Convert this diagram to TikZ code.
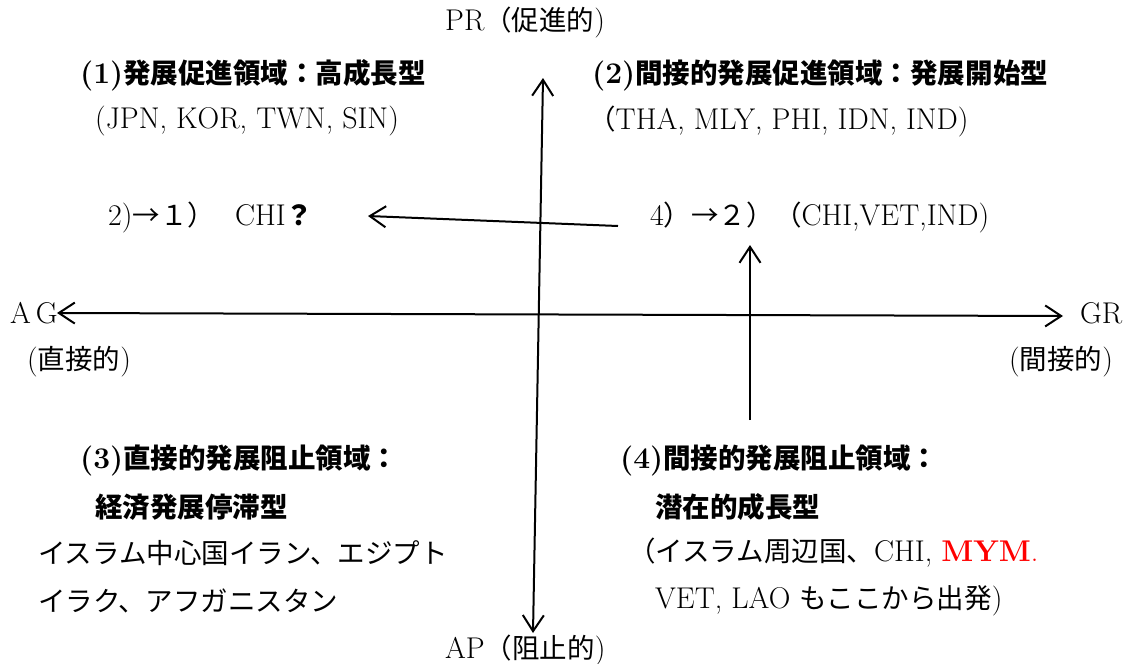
\documentclass[tikz,border=0pt]{standalone}
\usepackage{fontspec}
\usetikzlibrary{arrows.meta}
\newfontfamily\jp{Noto Sans CJK JP}[Scale=0.917]
\newcommand{\J}[1]{{\jp #1}}
\newcommand{\JB}[1]{{\jp\bfseries #1}}
\begin{document}
\begin{tikzpicture}[x=1pt,y=-1pt,
  txt/.style={inner sep=0pt, anchor=west, font=\fontsize{30}{34}\selectfont},
  ax/.style={line width=2pt, -{Straight Barb[length=16pt,width=21pt]}},
  axboth/.style={line width=2pt, {Straight Barb[length=16pt,width=21pt]}-{Straight Barb[length=16pt,width=21pt]}}]
\useasboundingbox (0,0) rectangle (1128,664);
% axis labels
\node[txt] (pr) at (445,22) {PR\J{（促進的})};
\node[txt] (ap) at (445,650) {AP\J{（阻止的})};
\node[txt] (ag) at (10,313) {A\,G};
\node[txt] (gr) at (1080,313) {GR};
\node[txt] (agl) at (27,362) {(\J{直接的})};
\node[txt] (grl) at (1009,362) {(\J{間接的})};
% quadrant 1
\node[txt] (h1) at (80,75) {\textbf{(1)}\JB{発展促進領域：高成長型}};
\node[txt] (c1) at (95,121) {(JPN, KOR, TWN, SIN)};
\node[txt] (n21) at (108,217) {2)\J{→１）}\hspace{20pt}CHI\JB{？}};
% quadrant 2
\node[txt] (h2) at (592,75) {\textbf{(2)}\JB{間接的発展促進領域：発展開始型}};
\node[txt] (c2) at (588,121) {\J{（}THA, MLY, PHI, IDN, IND)};
\node[txt] (n42) at (650,217) {4\J{）→２）（}CHI,VET,IND)};
% quadrant 3
\node[txt] (h3) at (80,460) {\textbf{(3)}\JB{直接的発展阻止領域：}};
\node[txt] (h3b) at (95,507) {\JB{経済発展停滞型}};
\node[txt] (c3a) at (38,553) {\J{イスラム中心国イラン、エジプト}};
\node[txt] (c3b) at (38,601) {\J{イラク、アフガニスタン}};
% quadrant 4
\node[txt] (h4) at (620,460) {\textbf{(4)}\JB{間接的発展阻止領域：}};
\node[txt] (h4b) at (655,507) {\JB{潜在的成長型}};
\node[txt] (c4a) at (628,553) {\J{（イスラム周辺国、}CHI, \textcolor{red}{\textbf{MYM}.}};
\node[txt] (c4b) at (655,601) {VET, LAO \J{もここから出発})};
% axes
\coordinate (hl) at (57,313);
\coordinate (hr) at (1063,316);
\coordinate (vt) at (543,78);
\coordinate (vb) at (533,633);
\draw[axboth] (hl) -- (hr);
\draw[axboth] (vb) -- (vt);
% transitions
\coordinate (a1s) at (618,226);
\coordinate (a1e) at (368,216);
\coordinate (a2s) at (750,420);
\coordinate (a2e) at (750,245);
\draw[ax] (a1s) -- (a1e);
\draw[ax] (a2s) -- (a2e);
\end{tikzpicture}
\end{document}
